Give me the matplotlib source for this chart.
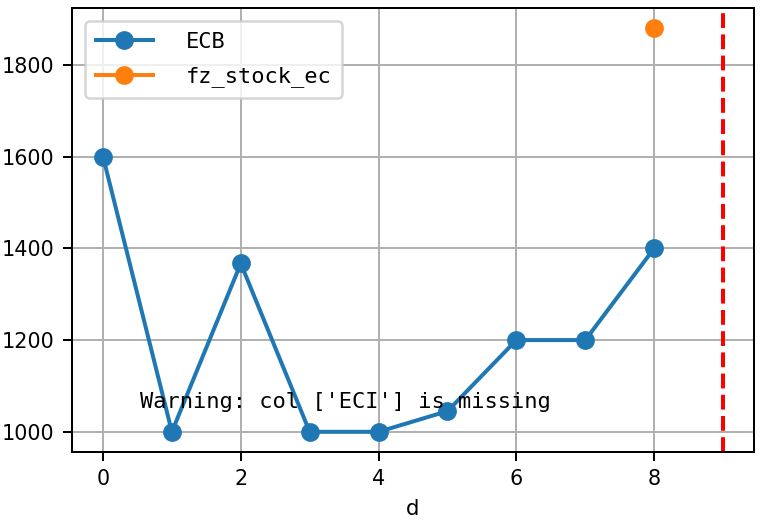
import matplotlib.pyplot as plt

# Data
d = [0, 1, 2, 3, 4, 5, 6, 7, 8]
ecb = [1600, 1000, 1367, 1000, 1000, 1045, 1200, 1200, 1400]
fz_d = [8]
fz_stock_ec = [1880]
limit_d = 9

plt.rcParams['font.family'] = ['DejaVu Sans']

fig = plt.figure(figsize=(769 / 180, 526 / 180), dpi=180)
ax = fig.add_axes([0.0936, 0.1407, 0.887, 0.8441])

ax.plot(d, ecb, marker='o', markersize=6.5, linewidth=1.6, label='ECB')
ax.plot(fz_d, fz_stock_ec, marker='o', markersize=6.5, linewidth=1.6, label='fz_stock_ec')
ax.axvline(limit_d, color='red', linestyle='--', linewidth=1.6)

ax.text(0.1, 0.1, "Warning: col ['ECI'] is missing", transform=ax.transAxes,
        family='DejaVu Sans Mono', fontsize=8.8)

ax.set_xlabel('d', fontsize=8.5)
ax.tick_params(labelsize=8.3)
ax.grid(True)
ax.legend(loc='upper left', prop={'family': 'DejaVu Sans Mono', 'size': 8.8},
          handlelength=2.6, handletextpad=1.5, labelspacing=0.68,
          borderpad=0.47, borderaxespad=0.6)

plt.savefig('out.png', dpi=180)
